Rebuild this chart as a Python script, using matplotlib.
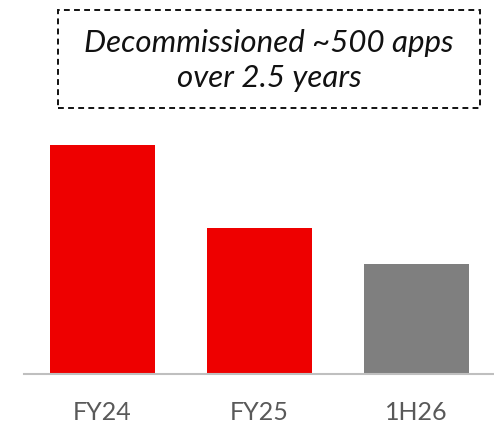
import matplotlib
matplotlib.use("Agg")
import matplotlib.pyplot as plt
from matplotlib.patches import Rectangle

categories = ["FY24", "FY25", "1H26"]
apps_decommissioned = [236, 150, 113]
bar_colors = ["#EE0000", "#EE0000", "#7F7F7F"]
note_lines = ["Decommissioned ~500 apps", "over 2.5 years"]

fig = plt.figure(figsize=(4.94, 4.25), dpi=100)
ax = fig.add_axes([24 / 494, 51.5 / 425, 471 / 494, 253.5 / 425])

ax.bar(range(len(categories)), apps_decommissioned, width=0.67, color=bar_colors)
ax.set_xlim(-0.5, 2.5)
ax.set_ylim(0, 262)

for side in ["top", "right", "left"]:
    ax.spines[side].set_visible(False)
ax.spines["bottom"].set_color("#BFBFBF")
ax.spines["bottom"].set_linewidth(1.5)
ax.set_yticks([])
ax.set_xticks(range(len(categories)))
ax.set_xticklabels(categories, fontsize=18, color="#595959", family="Lato")
ax.tick_params(axis="x", length=0, pad=20)

# dashed call-out box
box = Rectangle((58 / 494, 1 - 108 / 425), 422 / 494, 98 / 425,
                transform=fig.transFigure, fill=False, edgecolor="#111111",
                linewidth=1.4, linestyle=(0, (3, 2.2)))
fig.patches.append(box)
fig.text(269 / 494, 1 - 43 / 425, note_lines[0], ha="center", va="center",
         fontsize=22.5, style="italic", family="Lato", color="#111111")
fig.text(269 / 494, 1 - 78 / 425, note_lines[1], ha="center", va="center",
         fontsize=22.5, style="italic", family="Lato", color="#111111")

fig.savefig("out.png", dpi=100)
